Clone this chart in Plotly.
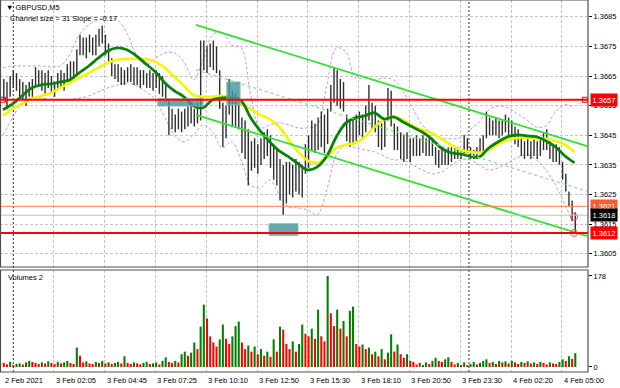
import plotly.graph_objects as go

# ---------------- data ----------------
# 10-minute bars (pairs of M5 bars), starting 2 Feb 23:25
price_high = [
    1.3664, 1.3663, 1.3665, 1.3667, 1.3666, 1.3664, 1.3663, 1.3662, 1.3663, 1.3664,
    1.3668, 1.3667, 1.3667, 1.3666, 1.3667, 1.3665, 1.3663, 1.3666, 1.3667, 1.3666,
    1.3669, 1.3670, 1.3670, 1.3674, 1.3679, 1.3678, 1.3678, 1.3679, 1.3678, 1.3679,
    1.3681, 1.3682, 1.3679, 1.3676, 1.3671, 1.3669, 1.3669, 1.3668, 1.3667, 1.3668,
    1.3669, 1.3668, 1.3668, 1.3667, 1.3667, 1.3666, 1.3667, 1.3666, 1.3667, 1.3666,
    1.3665, 1.3663, 1.3657, 1.3654, 1.3652, 1.3654, 1.3653, 1.3654, 1.3655, 1.3656,
    1.3654, 1.3656, 1.3677, 1.3677, 1.3675, 1.3676, 1.3677, 1.3675, 1.3667, 1.3656,
    1.3655, 1.3664, 1.3660, 1.3659, 1.3658, 1.3651, 1.3650, 1.3647, 1.3643, 1.3644,
    1.3642, 1.3644, 1.3646, 1.3647, 1.3645, 1.3642, 1.3640, 1.3637, 1.3635, 1.3636,
    1.3636, 1.3635, 1.3637, 1.3636, 1.3635, 1.3642, 1.3645, 1.3650, 1.3649, 1.3651,
    1.3653, 1.3652, 1.3654, 1.3662, 1.3668, 1.3667, 1.3664, 1.3663, 1.3652, 1.3650,
    1.3651, 1.3652, 1.3653, 1.3652, 1.3655, 1.3662, 1.3656, 1.3655, 1.3650, 1.3649,
    1.3650, 1.3661, 1.3660, 1.3649, 1.3648, 1.3646, 1.3645, 1.3646, 1.3644, 1.3644,
    1.3645, 1.3644, 1.3645, 1.3644, 1.3645, 1.3644, 1.3641, 1.3640, 1.3641, 1.3640,
    1.3641, 1.3641, 1.3641, 1.3641, 1.3640, 1.3645, 1.3644, 1.3641, 1.3640, 1.3641,
    1.3644, 1.3645, 1.3653, 1.3651, 1.3650, 1.3651, 1.3650, 1.3650, 1.3652, 1.3651,
    1.3650, 1.3648, 1.3647, 1.3644, 1.3643, 1.3644, 1.3643, 1.3644, 1.3643, 1.3644,
    1.3646, 1.3647, 1.3643, 1.3642, 1.3642, 1.3641, 1.3636, 1.3632, 1.3626, 1.3623,
    1.3619,
]
price_low = [
    1.3657, 1.3654, 1.3658, 1.3661, 1.3660, 1.3658, 1.3657, 1.3655, 1.3658, 1.3658,
    1.3662, 1.3662, 1.3660, 1.3659, 1.3661, 1.3659, 1.3658, 1.3661, 1.3661, 1.3660,
    1.3663, 1.3664, 1.3664, 1.3665, 1.3672, 1.3672, 1.3671, 1.3673, 1.3672, 1.3672,
    1.3675, 1.3676, 1.3672, 1.3670, 1.3665, 1.3664, 1.3663, 1.3662, 1.3662, 1.3663,
    1.3663, 1.3662, 1.3662, 1.3661, 1.3662, 1.3661, 1.3661, 1.3660, 1.3661, 1.3659,
    1.3658, 1.3657, 1.3645, 1.3647, 1.3646, 1.3647, 1.3646, 1.3647, 1.3648, 1.3649,
    1.3648, 1.3649, 1.3650, 1.3667, 1.3666, 1.3668, 1.3667, 1.3666, 1.3654, 1.3641,
    1.3644, 1.3652, 1.3648, 1.3648, 1.3647, 1.3639, 1.3637, 1.3628, 1.3633, 1.3634,
    1.3632, 1.3635, 1.3637, 1.3638, 1.3634, 1.3630, 1.3628, 1.3623, 1.3618, 1.3622,
    1.3625, 1.3624, 1.3626, 1.3625, 1.3624, 1.3632, 1.3634, 1.3640, 1.3639, 1.3640,
    1.3641, 1.3639, 1.3642, 1.3653, 1.3656, 1.3655, 1.3654, 1.3653, 1.3643, 1.3641,
    1.3642, 1.3643, 1.3645, 1.3644, 1.3646, 1.3650, 1.3647, 1.3646, 1.3641, 1.3640,
    1.3641, 1.3650, 1.3648, 1.3640, 1.3640, 1.3637, 1.3636, 1.3637, 1.3636, 1.3638,
    1.3638, 1.3638, 1.3639, 1.3638, 1.3638, 1.3638, 1.3635, 1.3634, 1.3635, 1.3635,
    1.3635, 1.3636, 1.3637, 1.3637, 1.3637, 1.3639, 1.3639, 1.3637, 1.3637, 1.3637,
    1.3639, 1.3639, 1.3644, 1.3645, 1.3645, 1.3645, 1.3644, 1.3645, 1.3646, 1.3645,
    1.3645, 1.3642, 1.3641, 1.3638, 1.3637, 1.3638, 1.3637, 1.3638, 1.3637, 1.3638,
    1.3640, 1.3640, 1.3637, 1.3636, 1.3636, 1.3635, 1.3630, 1.3626, 1.3621, 1.3616,
    1.3612,
]
volumes = [
    8, 5, 10, 4, 6, 7, 5, 9, 12,
    10, 8, 6, 9, 7, 11, 8, 6, 10, 7, 9, 12, 8, 6,
    38, 22,
    9, 11, 7, 6, 10, 8, 12, 7, 9, 6, 8, 10, 7, 21,
    8, 6, 9, 7, 5, 8, 10, 6, 7, 9, 5, 12,
    19, 10, 8, 12, 9,
    25, 30, 22, 28, 48, 35,
    79, 122, 95, 60, 48, 40, 54, 83, 55, 45,
    60, 80, 89, 48, 35, 42, 30, 40, 25, 35,
    22, 30, 20, 54, 30, 79, 73, 45, 35, 50,
    30, 45, 83, 65, 60, 75, 55, 112, 60, 50,
    178, 105, 80, 112, 75, 90, 60, 110, 118, 45,
    40, 44, 35, 38, 25, 30, 21, 35, 15, 28,
    64, 30, 44, 25, 18, 25, 12, 10, 5, 8,
    4, 9, 6, 12, 18, 12, 10, 15, 19, 10,
    5, 8, 4, 9, 3, 6, 10, 5, 8, 12,
    15, 8, 10, 6, 12, 9, 11, 7, 12, 9,
    6, 10, 8, 11, 7, 9, 6, 10, 8, 5,
    9, 7, 6, 10, 15, 12, 21, 16, 27,
]
# indicator lines sampled every 6 M5 bars (30 minutes)
ma_green = [
    1.36536, 1.36556, 1.36583, 1.36610, 1.36620, 1.36624, 1.36630, 1.36637, 1.36661, 1.36684,
    1.36711, 1.36735, 1.36745, 1.36739, 1.36718, 1.36691, 1.36664, 1.36627, 1.36600, 1.36580,
    1.36549, 1.36543, 1.36570, 1.36576, 1.36576, 1.36566, 1.36509, 1.36465, 1.36428, 1.36397,
    1.36377, 1.36353, 1.36333, 1.36343, 1.36380, 1.36445, 1.36492, 1.36509, 1.36516, 1.36526,
    1.36505, 1.36512, 1.36495, 1.36478, 1.36461, 1.36438, 1.36407, 1.36391, 1.36387, 1.36380,
    1.36377, 1.36407, 1.36428, 1.36445, 1.36451, 1.36448, 1.36445, 1.36431, 1.36411, 1.36380,
    1.36357,
]
ma_yellow = [
    1.36516, 1.36539, 1.36556, 1.36573, 1.36583, 1.36593, 1.36610, 1.36627, 1.36644, 1.36661,
    1.36678, 1.36695, 1.36705, 1.36708, 1.36708, 1.36708, 1.36698, 1.36678, 1.36647, 1.36617,
    1.36586, 1.36580, 1.36580, 1.36583, 1.36576, 1.36556, 1.36539, 1.36519, 1.36505, 1.36478,
    1.36434, 1.36394, 1.36364, 1.36357, 1.36377, 1.36407, 1.36418, 1.36424, 1.36445, 1.36478,
    1.36502, 1.36512, 1.36502, 1.36482, 1.36468, 1.36458, 1.36438, 1.36418, 1.36401, 1.36394,
    1.36391, 1.36401, 1.36421, 1.36434, 1.36441, 1.36441, 1.36438, 1.36438, 1.36431, 1.36418,
    1.36394,
]
env_upper = [
    1.36678, 1.36684, 1.36684, 1.36684, 1.36684, 1.36681, 1.36684, 1.36722, 1.36789, 1.36823,
    1.36840, 1.36847, 1.36840, 1.36796, 1.36722, 1.36688, 1.36711, 1.36728, 1.36728, 1.36698,
    1.36637, 1.36705, 1.36789, 1.36799, 1.36755, 1.36745, 1.36586, 1.36475, 1.36485, 1.36492,
    1.36485, 1.36475, 1.36475, 1.36485, 1.36620, 1.36745, 1.36732, 1.36644, 1.36644, 1.36637,
    1.36644, 1.36637, 1.36597, 1.36543, 1.36485, 1.36458, 1.36441, 1.36438, 1.36441, 1.36468,
    1.36495, 1.36536, 1.36549, 1.36543, 1.36522, 1.36502, 1.36478, 1.36482, 1.36529, 1.36553,
    1.36543,
]
env_lower = [
    1.36451, 1.36509, 1.36559, 1.36576, 1.36576, 1.36570, 1.36570, 1.36570, 1.36576, 1.36583,
    1.36597, 1.36610, 1.36620, 1.36627, 1.36617, 1.36597, 1.36570, 1.36509, 1.36451, 1.36428,
    1.36451, 1.36485, 1.36461, 1.36407, 1.36428, 1.36367, 1.36282, 1.36272, 1.36299, 1.36249,
    1.36208, 1.36205, 1.36198, 1.36181, 1.36266, 1.36384, 1.36418, 1.36407, 1.36401, 1.36394,
    1.36380, 1.36367, 1.36367, 1.36350, 1.36333, 1.36320, 1.36326, 1.36347, 1.36367, 1.36367,
    1.36350, 1.36333, 1.36340, 1.36357, 1.36374, 1.36384, 1.36367, 1.36333, 1.36282, 1.36215,
    1.36147,
]
line_step = 6

# regression channel (start / end bar index)
channel_index = [121.6, 368.0]
channel_upper = [1.36823, 1.36413]
channel_mid = [1.36671, 1.36261]
channel_lower = [1.36519, 1.36109]

# horizontal levels
level_prices = [1.3657, 1.3621, 1.3618, 1.3612]
level_text = ["1.3657", "1.3621", "1.3618", "1.3612"]
level_anchor_index = [0.0, 366.6]

# trade boxes: (start index, end index, low price, high price)
box_start = [97.6, 141.0, 167.6]
box_end = [126.0, 149.3, 185.8]
box_low = [1.36549, 1.36553, 1.36112]
box_high = [1.36573, 1.36630, 1.36151]

# markers on last bar
mark_index = [359.7, 359.7]
mark_price = [1.36174, 1.36120]

# axes
price_ticks = [1.3605, 1.3615, 1.3625, 1.3635, 1.3645, 1.3655, 1.3665, 1.3675, 1.3685]
time_tick_index = [0, 32, 64, 96, 128, 160, 192, 224, 256, 288, 320, 352]
time_tick_text = ["2 Feb 2021", "3 Feb 02:05", "3 Feb 04:45", "3 Feb 07:25", "3 Feb 10:10",
                  "3 Feb 12:50", "3 Feb 15:30", "3 Feb 18:10", "3 Feb 20:50", "3 Feb 23:30",
                  "4 Feb 02:20", "4 Feb 05:00"]
day_break_index = [6.5, 293.5]

# ---------------- figure ----------------
W, H = 620, 388
FONT = "Liberation Sans"
XR = 588 / W
main_dom = [121 / H, 1.0]
vol_dom = [16 / H, 118 / H]

bar_x = [2 * k + 0.5 for k in range(len(price_high))]
line_x = [line_step * j for j in range(len(ma_green))]
vol_colors = ["#008000" if i > 0 and volumes[i] > volumes[i - 1] else "#ff0000"
              for i in range(len(volumes))]

seg_x, seg_y = [], []
for x, h, l in zip(bar_x, price_high, price_low):
    seg_x += [x, x, None]
    seg_y += [l, h, None]

fig = go.Figure()

env_style = dict(color="#c49ae6", width=1, dash="3px,2px")
fig.add_trace(go.Scatter(x=line_x, y=env_upper, mode="lines", line=dict(shape="spline", **env_style),
                         xaxis="x", yaxis="y", hoverinfo="skip"))
fig.add_trace(go.Scatter(x=line_x, y=env_lower, mode="lines", line=dict(shape="spline", **env_style),
                         xaxis="x", yaxis="y", hoverinfo="skip"))

fig.add_trace(go.Scatter(x=seg_x, y=seg_y, mode="lines", connectgaps=False,
                         line=dict(color="#2e2e2e", width=1.4),
                         xaxis="x", yaxis="y", hoverinfo="skip"))

fig.add_trace(go.Scatter(x=line_x, y=ma_yellow, mode="lines",
                         line=dict(color="#f5f500", width=2.6, shape="spline"),
                         xaxis="x", yaxis="y", hoverinfo="skip"))
fig.add_trace(go.Scatter(x=line_x, y=ma_green, mode="lines",
                         line=dict(color="#0a820a", width=2.8, shape="spline"),
                         xaxis="x", yaxis="y", hoverinfo="skip"))

for ys, st in [(channel_upper, dict(color="#34e034", width=1.8)),
               (channel_lower, dict(color="#34e034", width=1.8)),
               (channel_mid, dict(color="#86e086", width=1.2, dash="3px,3px"))]:
    fig.add_trace(go.Scatter(x=channel_index, y=ys, mode="lines", line=st,
                             xaxis="x", yaxis="y", hoverinfo="skip"))

fig.add_trace(go.Scatter(x=mark_index, y=mark_price, mode="markers",
                         marker=dict(symbol="circle-open", size=7, color="#ff5050", line=dict(width=1)),
                         xaxis="x", yaxis="y", hoverinfo="skip"))

fig.add_trace(go.Bar(x=bar_x, y=volumes, width=1.3, marker=dict(color=vol_colors, line=dict(width=0)),
                     xaxis="x2", yaxis="y2", hoverinfo="skip"))

shapes = []
for x0, x1, y0, y1 in zip(box_start, box_end, box_low, box_high):
    shapes.append(dict(type="rect", xref="x", yref="y", x0=x0, x1=x1, y0=y0, y1=y1,
                       fillcolor="rgba(72,148,158,0.82)", line=dict(color="#7fb8c0", width=1)))
level_style = [dict(color="#ff0000", width=2), dict(color="#ff8048", width=1),
               dict(color="#c0c0c0", width=1), dict(color="#ff0000", width=2)]
for p, st in zip(level_prices, level_style):
    shapes.append(dict(type="line", xref="paper", yref="y", x0=0, x1=XR, y0=p, y1=p, line=st))
for d in day_break_index:
    shapes.append(dict(type="line", xref="x", yref="paper", x0=d, x1=d, y0=vol_dom[0], y1=1,
                       line=dict(color="#303030", width=1, dash="2px,2px"), layer="below"))
shapes.append(dict(type="rect", xref="paper", yref="paper", x0=0.5 / W, x1=XR, y0=main_dom[0], y1=1.0,
                   line=dict(color="#505050", width=1.2)))
shapes.append(dict(type="rect", xref="paper", yref="paper", x0=0.5 / W, x1=XR, y0=vol_dom[0], y1=vol_dom[1],
                   line=dict(color="#505050", width=1.2)))

fig.add_trace(go.Scatter(x=level_anchor_index, y=[level_prices[0]] * 2, mode="markers",
                         marker=dict(symbol="square-open", size=5, color="#ff0000", line=dict(width=1)),
                         xaxis="x", yaxis="y", hoverinfo="skip"))

ann = []
for t, s in zip(time_tick_index, time_tick_text):
    ann.append(dict(x=t, xref="x", y=8 / H, yref="paper", text=s, showarrow=False,
                    xanchor="left", yanchor="middle", font=dict(size=7.5, color="#000")))
level_bg = ["#ff0000", "#ff5a30", "#000000", "#ff0000"]
for p, s, bg in zip(level_prices, level_text, level_bg):
    ann.append(dict(x=590 / W, xref="paper", y=p, yref="y", text=s, showarrow=False,
                    xanchor="left", yanchor="middle", bgcolor=bg, borderpad=1.5,
                    font=dict(size=7.5, color="#ffffff")))
ann.append(dict(x=4 / W, xref="paper", y=1 - 7 / H, yref="paper", text="▼ GBPUSD,M5", showarrow=False,
                xanchor="left", yanchor="middle", font=dict(size=7.5, color="#000")))
ann.append(dict(x=8 / W, xref="paper", y=1 - 18 / H, yref="paper", text="Channel size = 31 Slope = -0.17",
                showarrow=False, xanchor="left", yanchor="middle", font=dict(size=7.5, color="#000")))
ann.append(dict(x=6 / W, xref="paper", y=1 - 277 / H, yref="paper", text="Volumes 2", showarrow=False,
                xanchor="left", yanchor="middle", font=dict(size=7.5, color="#000")))

grid = dict(showgrid=True, gridcolor="#c4c4c4", gridwidth=1, griddash="3px,2px")
xcommon = dict(domain=[0, XR], range=[-1.89, 368.5], tickvals=time_tick_index[1:],
               showticklabels=False, ticks="", zeroline=False, showline=False, **grid)

fig.update_layout(
    width=W, height=H, margin=dict(l=0, r=0, t=0, b=0),
    paper_bgcolor="white", plot_bgcolor="white", showlegend=False,
    font=dict(family=FONT, size=7.5, color="#000"),
    xaxis=dict(anchor="y", **xcommon),
    xaxis2=dict(anchor="y2", matches="x", **xcommon),
    yaxis=dict(domain=main_dom, range=[1.36005, 1.36907], side="right", anchor="x",
               tickvals=price_ticks, ticktext=["%.4f" % v for v in price_ticks],
               ticks="outside", ticklen=3, tickcolor="#000", zeroline=False,
               showline=False, tickfont=dict(size=7.5), **grid),
    yaxis2=dict(domain=vol_dom, range=[-9.8, 189.7], side="right", anchor="x2",
                tickvals=[0, 178], ticktext=["0", "178"], ticks="outside", ticklen=3,
                tickcolor="#000", showgrid=False, zeroline=False, showline=False,
                tickfont=dict(size=7.5)),
    shapes=shapes, annotations=ann,
)

fig.write_html("out.html", config={"displayModeBar": False},
               post_script="document.body.style.margin='0';document.body.style.overflow='hidden';")
